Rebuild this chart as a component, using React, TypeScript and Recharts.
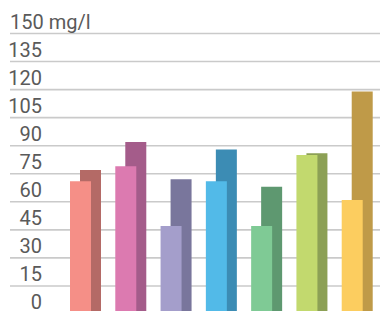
import { BarChart, Bar, XAxis, YAxis, CartesianGrid, Cell } from "recharts";

const groups = ["g1", "g2", "g3", "g4", "g5", "g6", "g7"];
const frontValues = [71, 79, 47, 71, 47, 85, 61];
const backValues = [77, 92, 72, 88, 68, 86, 119];
const yTicks = [0, 15, 30, 45, 60, 75, 90, 105, 120, 135, 150];

const FRONT_COLORS = ["#f58f87", "#dc7ab0", "#a49ecb", "#52bae8", "#7fca95", "#c2d96e", "#fccd5f"];
const BACK_COLORS = ["#b46a66", "#a45c8a", "#79769c", "#3c8cb4", "#5e9870", "#8ca055", "#bf9a48"];

const data = groups.map((name, i) => ({ name, front: frontValues[i], back: backValues[i] }));

// y axis labels sit just above their grid line
function YTick(props: any) {
  const { y, payload } = props;
  const top = payload.value === 150;
  return (
    <text
      x={top ? 10 : 42}
      y={y - 5}
      textAnchor={top ? "start" : "end"}
      fill="#5a5a5a"
      fontSize={20}
      fontFamily="Roboto, sans-serif"
    >
      {top ? "150 mg/l" : payload.value}
    </text>
  );
}

// grid lines run the full width, under the labels too
function GridLine(props: any) {
  return <line key={props.key} x1={10} x2={380} y1={props.y1} y2={props.y2} stroke="#cacaca" strokeWidth={1.6} />;
}

export default function App() {
  return (
    <div style={{ position: "absolute", left: 0, top: 0, width: 380, height: 311, overflow: "hidden", background: "#fff" }}>
      <BarChart width={390} height={320} data={data} margin={{ top: 33.5, right: 5, bottom: 6, left: 0 }}>
        <CartesianGrid vertical={false} horizontal={GridLine} />
        <YAxis
          domain={[0, 150]}
          ticks={yTicks}
          width={58}
          axisLine={false}
          tickLine={false}
          tick={<YTick />}
          interval={0}
        />
        <XAxis xAxisId="back" dataKey="name" hide padding={{ left: 10, right: 0 }} />
        <XAxis xAxisId="front" dataKey="name" hide padding={{ left: 0, right: 10 }} />
        <Bar xAxisId="back" dataKey="back" barSize={21} isAnimationActive={false}>
          {data.map((d, i) => (
            <Cell key={d.name} fill={BACK_COLORS[i]} />
          ))}
        </Bar>
        <Bar xAxisId="front" dataKey="front" barSize={21} isAnimationActive={false}>
          {data.map((d, i) => (
            <Cell key={d.name} fill={FRONT_COLORS[i]} />
          ))}
        </Bar>
      </BarChart>
    </div>
  );
}
